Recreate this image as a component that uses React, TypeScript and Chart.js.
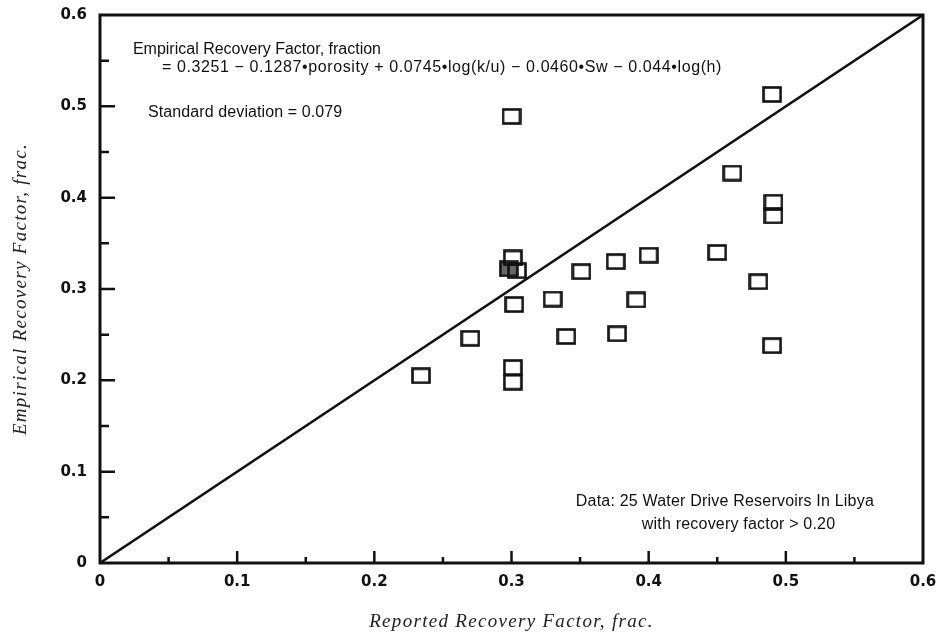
import { useEffect, useRef } from "react";
import { Chart, registerables } from "chart.js";

Chart.register(...registerables);

// Reported (x) vs empirical (y) recovery factor
const reportedRF = [0.234, 0.27, 0.3, 0.301, 0.304, 0.302, 0.301, 0.301, 0.33, 0.34, 0.351, 0.376, 0.377, 0.391, 0.4, 0.45, 0.461, 0.48, 0.49, 0.491, 0.491, 0.49];
const empiricalRF = [0.205, 0.246, 0.489, 0.334, 0.32, 0.283, 0.214, 0.198, 0.289, 0.248, 0.319, 0.33, 0.251, 0.288, 0.337, 0.34, 0.427, 0.308, 0.513, 0.395, 0.38, 0.238];
// one point drawn shaded
const shadedReported = [0.298];
const shadedEmpirical = [0.322];
// 45° reference line end points
const diagonalX = [0, 0.6];
const diagonalY = [0, 0.6];

const tickValues = [0, 0.1, 0.2, 0.3, 0.4, 0.5, 0.6];
const minorTickValues = [0.05, 0.15, 0.25, 0.35, 0.45, 0.55];

const xTitle = "Reported Recovery Factor, frac.";
const yTitle = "Empirical Recovery Factor, frac.";
const equationLines = [
  "Empirical Recovery Factor, fraction",
  "= 0.3251 \u2212 0.1287\u2022porosity + 0.0745\u2022log(k/u) \u2212 0.0460\u2022Sw \u2212 0.044\u2022log(h)",
  "Standard deviation = 0.079",
];
const noteLines = ["Data: 25 Water Drive Reservoirs In Libya", "with recovery factor > 0.20"];

function makeMarker(fill: string | null): HTMLCanvasElement {
  const c = document.createElement("canvas");
  c.width = 20;
  c.height = 17;
  const g = c.getContext("2d")!;
  if (fill) {
    g.fillStyle = fill;
    g.fillRect(1.5, 1.5, 17, 14);
  }
  g.strokeStyle = "#111";
  g.lineWidth = 2.6;
  g.strokeRect(1.5, 1.5, 17, 14);
  return c;
}

export default function App() {
  const ref = useRef<HTMLCanvasElement | null>(null);

  useEffect(() => {
    if (!ref.current) return;

    const framePlugin = {
      id: "frame",
      afterDraw(chart: any) {
        const { ctx, chartArea: a, scales } = chart;
        const xs = scales.x;
        const ys = scales.y;
        ctx.save();
        ctx.strokeStyle = "#111";
        ctx.lineWidth = 3;
        ctx.strokeRect(a.left, a.top, a.right - a.left, a.bottom - a.top);
        ctx.lineWidth = 2.5;
        ctx.beginPath();
        tickValues.slice(1, -1).forEach((v) => {
          const px = xs.getPixelForValue(v);
          ctx.moveTo(px, a.bottom);
          ctx.lineTo(px, a.bottom - 12);
          const py = ys.getPixelForValue(v);
          ctx.moveTo(a.left, py);
          ctx.lineTo(a.left + 15, py);
        });
        minorTickValues.forEach((v) => {
          const px = xs.getPixelForValue(v);
          ctx.moveTo(px, a.bottom);
          ctx.lineTo(px, a.bottom - 6);
          const py = ys.getPixelForValue(v);
          ctx.moveTo(a.left, py);
          ctx.lineTo(a.left + 9, py);
        });
        ctx.stroke();

        ctx.fillStyle = "#111";
        ctx.font = "16px 'Liberation Sans', Arial, sans-serif";
        ctx.textBaseline = "middle";
        ctx.textAlign = "left";
        const put = (t: string, x: number, y: number, ls = 0) => {
          (ctx as any).letterSpacing = ls + "px";
          ctx.fillText(t, xs.getPixelForValue(x), ys.getPixelForValue(y));
        };
        put(equationLines[0], 0.024, 0.562);
        put(equationLines[1], 0.0452, 0.5422, 0.6);
        put(equationLines[2], 0.035, 0.4929, 0.1);
        put(noteLines[0], 0.3469, 0.0668, 0.2);
        put(noteLines[1], 0.395, 0.0416, 0.2);

        // axis titles (letter-spaced serif italic)
        ctx.fillStyle = "#222";
        ctx.font = "italic 19px 'Liberation Serif', 'DejaVu Serif', serif";
        ctx.textAlign = "center";
        (ctx as any).letterSpacing = "1.3px";
        ctx.fillText(xTitle, (a.left + a.right) / 2, 622);
        ctx.translate(21, (a.top + a.bottom) / 2);
        ctx.rotate(-Math.PI / 2);
        ctx.fillText(yTitle, 0, 0);
        (ctx as any).letterSpacing = "0px";
        ctx.restore();
      },
    };

    const tickFont = { family: "'DejaVu Sans', sans-serif", size: 15, weight: "bold" as const };
    const fmt = (v: any) => (Number(v) === 0 ? "0" : Number(v).toFixed(1));

    const chart = new Chart(ref.current, {
      type: "scatter",
      data: {
        datasets: [
          {
            type: "line",
            data: diagonalX.map((x, i) => ({ x, y: diagonalY[i] })),
            borderColor: "#111",
            borderWidth: 2.5,
            pointRadius: 0,
            fill: false,
          } as any,
          {
            data: reportedRF.map((x, i) => ({ x, y: empiricalRF[i] })),
            pointStyle: makeMarker(null),
            pointRadius: 8,
          },
          {
            data: shadedReported.map((x, i) => ({ x, y: shadedEmpirical[i] })),
            pointStyle: makeMarker("#666"),
            pointRadius: 8,
          },
        ],
      },
      options: {
        animation: false,
        responsive: false,
        layout: { padding: { top: 15, right: 16, left: 0, bottom: 0 } },
        plugins: { legend: { display: false }, tooltip: { enabled: false } },
        scales: {
          x: {
            type: "linear",
            min: 0,
            max: 0.6,
            afterBuildTicks: (s: any) => {
              s.ticks = tickValues.map((value) => ({ value }));
            },
            afterFit: (s: any) => {
              s.height = 71;
              s.paddingLeft = 0;
              s.paddingRight = 0;
              s.paddingTop = 0;
              s.paddingBottom = 0;
            },
            grid: { display: false, drawTicks: false },
            border: { display: false },
            ticks: { font: tickFont, color: "#111", padding: 10, callback: fmt, maxRotation: 0 },
            title: { display: false, text: xTitle },
          },
          y: {
            type: "linear",
            min: 0,
            max: 0.6,
            afterBuildTicks: (s: any) => {
              s.ticks = tickValues.map((value) => ({ value }));
            },
            afterFit: (s: any) => {
              s.width = 100;
              s.paddingLeft = 0;
              s.paddingRight = 0;
              s.paddingTop = 0;
              s.paddingBottom = 0;
            },
            grid: { display: false, drawTicks: false },
            border: { display: false },
            ticks: { font: tickFont, color: "#111", padding: 13, callback: fmt },
            title: { display: false, text: yTitle },
          },
        },
      },
      plugins: [framePlugin],
    } as any);

    return () => chart.destroy();
  }, []);

  return (
    <div style={{ position: "absolute", left: 0, top: 0, width: 939, height: 634, background: "#fff" }}>
      <canvas ref={ref} width={939} height={634} />
    </div>
  );
}
